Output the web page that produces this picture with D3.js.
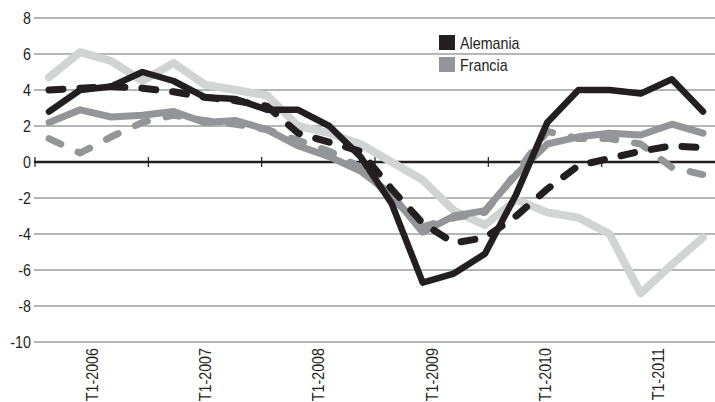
<!doctype html>
<html lang="es">
<head>
    <meta charset="UTF-8">
    <title>Alemania / Francia</title>
    <style>
        body { margin: 0; background: #fff; }
        #chart text { font-family: "Liberation Sans Narrow", "Liberation Sans", sans-serif; fill: #231f20; }
        #chart .grid line { stroke: #6d6e71; stroke-width: 1.2; }
        #chart path.serie { fill: none; stroke-linejoin: round; stroke-linecap: round; }
    </style>
</head>
<body>
<svg id="chart" width="715" height="402"></svg>

<script src="https://cdn.jsdelivr.net/npm/d3@7"></script>
<script>
    // trimestres T1-2006 .. T2-2011
    var quarters = []
    for (var yr = 2006; yr <= 2011; yr++) {
        for (var q = 1; q <= 4; q++) {
            if (quarters.length < 22) quarters.push('T' + q + '-' + yr)
        }
    }
    var yearLabels = ['T1-2006', 'T1-2007', 'T1-2008', 'T1-2009', 'T1-2010', 'T1-2011']
    var yTicks = [8, 6, 4, 2, 0, -2, -4, -6, -8, -10]

    var alemania = [2.8, 4.0, 4.2, 5.0, 4.5, 3.6, 3.5, 2.9, 2.9, 2.0, 0.3, -2.3, -6.7, -6.2, -5.1, -1.8, 2.2, 4.0, 4.0, 3.8, 4.6, 2.8]
    var alemaniaB = [4.0, 4.1, 4.2, 4.1, 3.9, 3.6, 3.4, 3.1, 1.6, 1.1, 0.6, -1.5, -3.4, -4.5, -4.2, -3.0, -1.5, -0.2, 0.2, 0.6, 0.9, 0.8]
    var francia = [2.2, 2.9, 2.5, 2.6, 2.8, 2.2, 2.3, 1.8, 0.9, 0.3, -0.5, -1.8, -3.9, -3.0, -2.7, -0.7, 1.0, 1.4, 1.6, 1.5, 2.1, 1.6]
    var franciaB = [1.3, 0.5, 1.4, 2.2, 2.6, 2.3, 2.1, 1.8, 1.2, 0.6, -0.3, -2.0, -3.6, -3.1, -2.8, -0.6, 1.7, 1.3, 1.3, 1.0, -0.3, -0.7]
    var otro = [4.7, 6.1, 5.6, 4.5, 5.5, 4.3, 4.0, 3.7, 2.0, 1.6, 1.0, 0.0, -1.0, -2.7, -3.5, -2.1, -2.8, -3.1, -4.0, -7.3, -5.7, -4.2]

    var svg = d3.select('#chart')

    var x = d3.scalePoint().domain(quarters).range([49, 703])
    var xYear = d3.scaleBand().domain(yearLabels).range([35, 715])
    var y = d3.scaleLinear().domain([-10, 8]).range([342, 18])

    // condensed look: squeeze the glyphs horizontally
    function narrow(sel) {
        sel.each(function() {
            var w = this.getComputedTextLength()
            d3.select(this).attr('textLength', w * 0.84).attr('lengthAdjust', 'spacingAndGlyphs')
        })
    }

    // grid
    svg.append('g').attr('class', 'grid')
        .selectAll('line')
        .data(yTicks.filter(function(d) { return d !== 0 }))
        .enter().append('line')
        .attr('x1', 34).attr('x2', 715)
        .attr('y1', function(d) { return y(d) })
        .attr('y2', function(d) { return y(d) })

    var yAxis = svg.append('g')
        .attr('transform', 'translate(33,0)')
        .call(d3.axisLeft(y).tickValues(yTicks).tickSize(0).tickPadding(2)
            .tickFormat(function(d) { return String(d) }))
    yAxis.select('.domain').remove()
    yAxis.selectAll('text').style('font-size', '17px').call(narrow)

    var line = d3.line()
        .x(function(d, i) { return x(quarters[i]) })
        .y(function(d) { return y(d) })

    var series = [
        { values: otro, color: '#d1d3d4', width: 8, dash: null },
        { values: franciaB, color: '#939598', width: 7, dash: '13,19' },
        { values: francia, color: '#939598', width: 7, dash: null },
        { values: alemaniaB, color: '#231f20', width: 7, dash: '14,17' },
        { values: alemania, color: '#231f20', width: 6.5, dash: null }
    ]

    // zero line
    svg.append('line')
        .attr('x1', 34).attr('x2', 715)
        .attr('y1', y(0)).attr('y2', y(0))
        .attr('stroke', '#231f20').attr('stroke-width', 2.5)

    var xAxis = svg.append('g')
        .attr('transform', 'translate(0,' + y(0) + ')')
    xAxis.selectAll('line')
        .data(yearLabels)
        .enter().append('line')
        .attr('x1', function(d) { return xYear(d) })
        .attr('x2', function(d) { return xYear(d) })
        .attr('y1', -5).attr('y2', 5)
        .attr('stroke', '#231f20').attr('stroke-width', 1.2)

    series.forEach(function(s) {
        svg.append('path')
            .attr('class', 'serie')
            .attr('d', line(s.values))
            .attr('stroke', s.color)
            .attr('stroke-width', s.width)
            .attr('stroke-dasharray', s.dash)
    })

    svg.append('g').selectAll('text')
        .data(yearLabels)
        .enter().append('text')
        .attr('transform', function(d) {
            return 'translate(' + (xYear(d) + xYear.bandwidth() / 2 + 6) + ',348) rotate(-90)'
        })
        .attr('text-anchor', 'end')
        .style('font-size', '17px')
        .text(function(d) { return d })
        .call(narrow)

    // legend
    var legend = [
        { name: 'Alemania', color: '#231f20' },
        { name: 'Francia', color: '#939598' }
    ]
    var lg = svg.append('g').attr('transform', 'translate(439,35)')
    lg.selectAll('rect')
        .data(legend)
        .enter().append('rect')
        .attr('x', 0).attr('y', function(d, i) { return i * 22 })
        .attr('width', 16).attr('height', 15)
        .attr('fill', function(d) { return d.color })
    lg.selectAll('text')
        .data(legend)
        .enter().append('text')
        .attr('x', 21).attr('y', function(d, i) { return i * 22 + 14 })
        .style('font-size', '17px')
        .text(function(d) { return d.name })
        .call(narrow)
</script>
</body>
</html>
